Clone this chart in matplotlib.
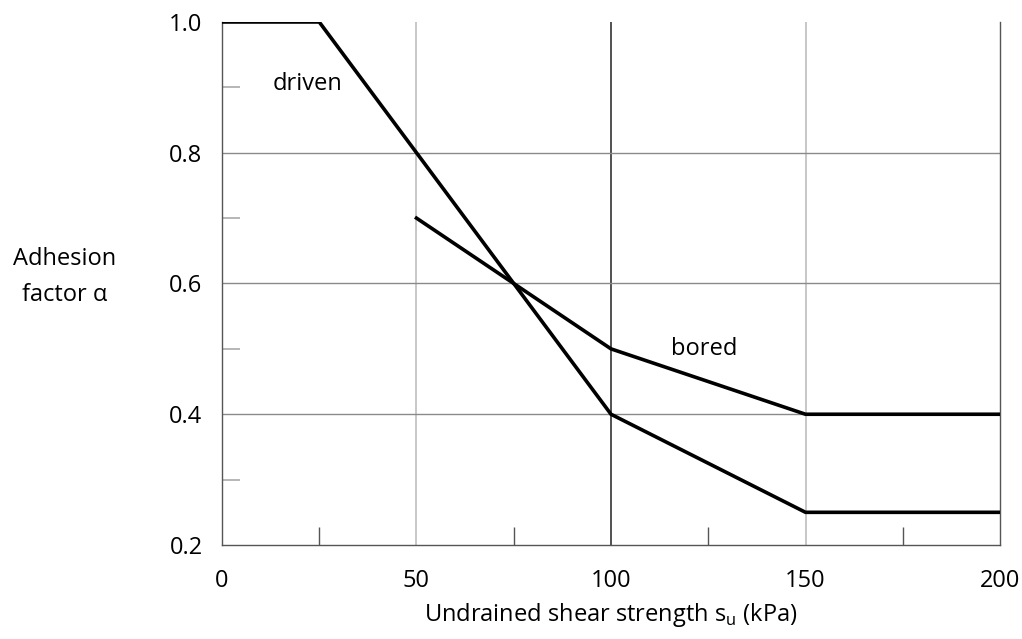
import numpy as np
import matplotlib.pyplot as plt

plt.rcParams['font.family'] = ['Open Sans', 'DejaVu Sans']

# datos
su_driven = [0, 25, 100, 150, 200]
alpha_driven = [1.0, 1.0, 0.4, 0.25, 0.25]
su_bored = [50, 100, 150, 200]
alpha_bored = [0.7, 0.5, 0.4, 0.4]

fig = plt.figure(figsize=(10.22, 6.39), dpi=100)
ax = fig.add_axes([0.2172, 0.1471, 0.7613, 0.8185])

ax.set_xlim(0, 200)
ax.set_ylim(0.2, 1.0)

# rejilla
for x, c in [(50, '#bdbdbd'), (100, '#333333'), (150, '#bdbdbd')]:
    ax.axvline(x, color=c, lw=1.2, zorder=1)
for y in [0.4, 0.6, 0.8]:
    ax.axhline(y, color='#8a8a8a', lw=1.0, zorder=1)

ax.plot(su_driven, alpha_driven, color='black', lw=2.6, zorder=3,
        solid_joinstyle='miter')
ax.plot(su_bored, alpha_bored, color='black', lw=2.6, zorder=3,
        solid_joinstyle='miter')

ax.text(22, 0.905, 'driven', fontsize=17, ha='center', va='center')
ax.text(124, 0.5, 'bored', fontsize=17, ha='center', va='center')

ax.set_xticks([0, 50, 100, 150, 200])
ax.set_yticks([0.2, 0.4, 0.6, 0.8, 1.0])
ax.set_yticklabels(['0.2', '0.4', '0.6', '0.8', '1.0'])
ax.set_xticks([25, 75, 125, 175], minor=True)
ax.set_yticks([0.3, 0.5, 0.7, 0.9], minor=True)
ax.tick_params(axis='y', which='major', length=0, labelsize=17, pad=14)
ax.tick_params(axis='x', which='major', length=0, labelsize=17, pad=17)
ax.tick_params(axis='x', which='minor', direction='in', length=13,
               color='#555555', width=1)
ax.tick_params(axis='y', which='minor', direction='in', length=13,
               color='#aaaaaa', width=1.2)

for s in ax.spines.values():
    s.set_color('#555555')
    s.set_linewidth(1.0)
ax.spines['top'].set_visible(False)

ax.set_xlabel(r'Undrained shear strength s$_\mathregular{u}$ (kPa)',
              fontsize=17, labelpad=6)
fig.text(0.063, 0.566, 'Adhesion\nfactor α', fontsize=17,
         ha='center', va='center', linespacing=1.65)

plt.savefig('out.png', dpi=100)
